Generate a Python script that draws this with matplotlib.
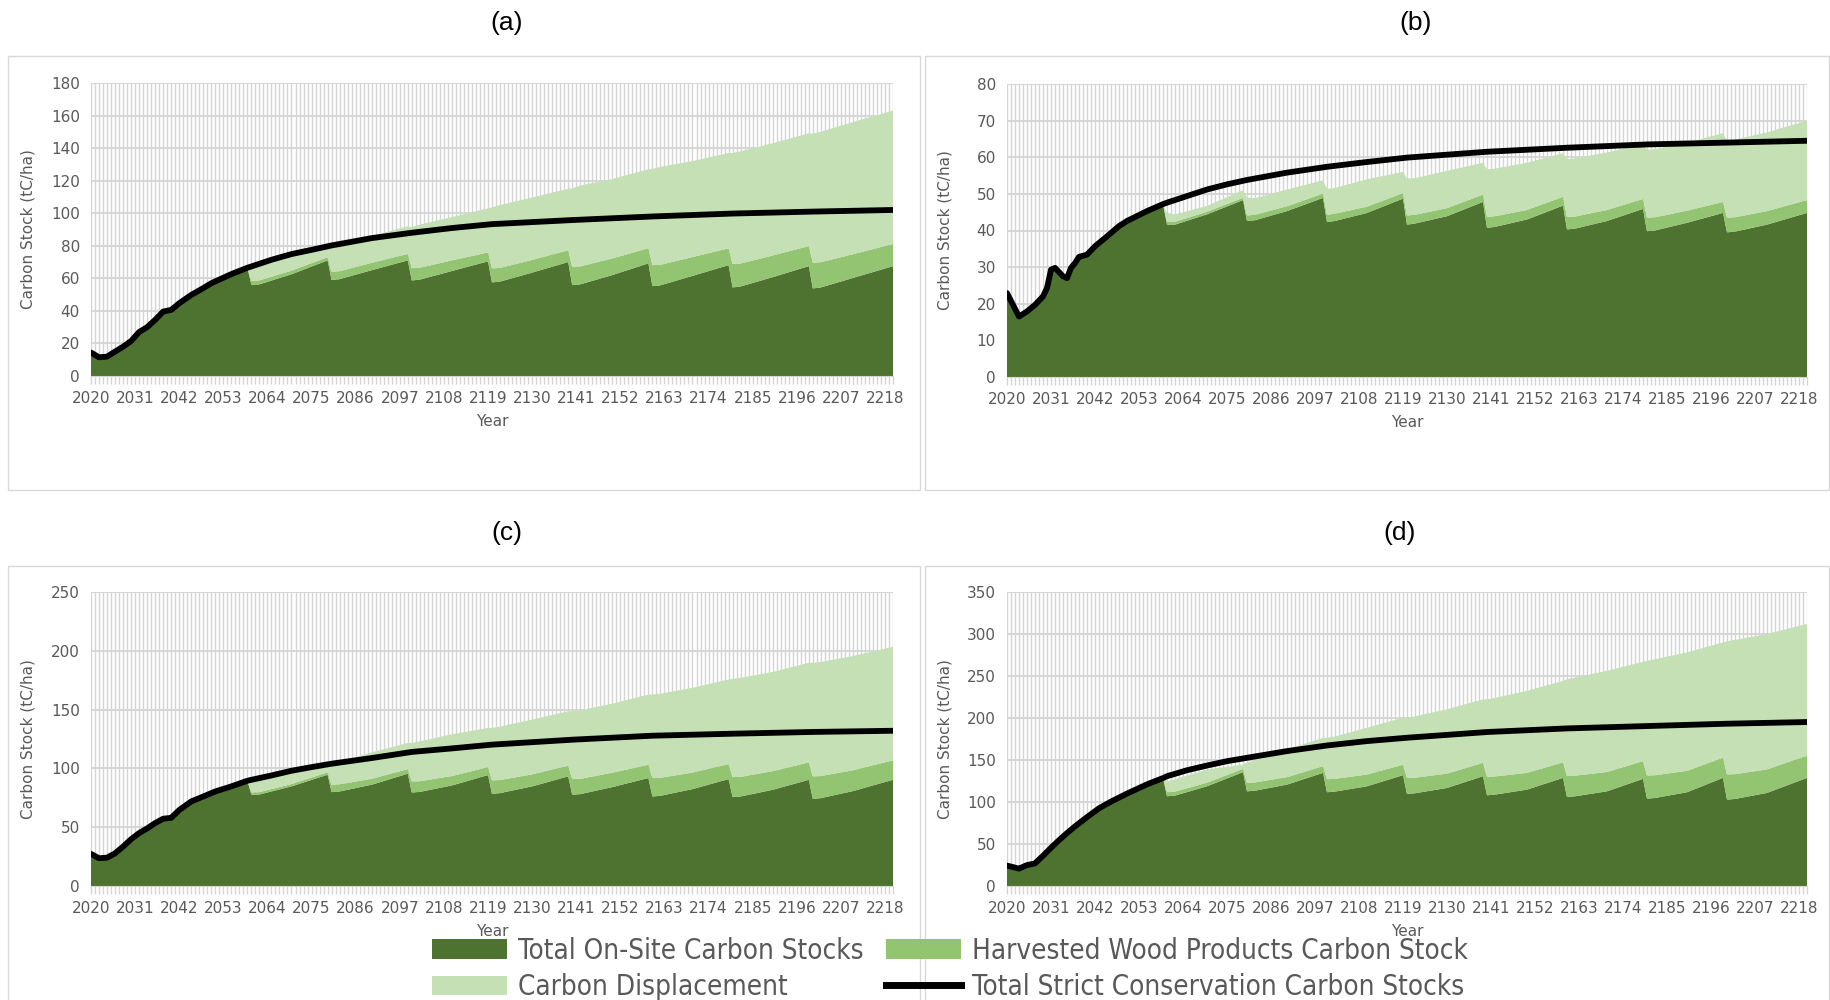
import matplotlib
matplotlib.use('Agg')
import matplotlib.pyplot as plt
from matplotlib import font_manager
from matplotlib.patches import Rectangle, Patch
from matplotlib.lines import Line2D
from matplotlib.ticker import FixedLocator, MultipleLocator

DARK = '#4E7230'
MID = '#92C472'
LIGHT = '#C5E0B4'
GRID = '#D4D4D4'
TEXT = '#595959'

XTICKS = [2020, 2031, 2042, 2053, 2064, 2075, 2086, 2097, 2108, 2119,
          2130, 2141, 2152, 2163, 2174, 2185, 2196, 2207, 2218]

# harvest rotations: post-harvest low, +2 yrs, mid rotation, pre-harvest high
ROT_YEARS = [2060, 2062, 2070, 2079,
             2080, 2082, 2090, 2099,
             2100, 2102, 2110, 2119,
             2120, 2122, 2130, 2139,
             2140, 2142, 2150, 2159,
             2160, 2162, 2170, 2179,
             2180, 2182, 2190, 2199,
             2200, 2202, 2210, 2220]
STRICT_LATE_YEARS = [2060, 2065, 2070, 2075, 2080, 2090, 2100, 2110, 2120,
                     2140, 2160, 2180, 2200, 2220]

# ---- (a)
A_PRE_YEARS = [2020, 2022, 2024, 2026, 2028, 2030, 2032, 2034, 2036, 2038,
               2040, 2042, 2045, 2048, 2050, 2055, 2059]
A_PRE_STOCK = [14.4, 11.5, 11.9, 15, 18, 21.5, 27, 30, 34.5, 39.6,
               40.6, 44.7, 49.8, 54, 57, 62.6, 66.5]
A_ONSITE = [56, 56.3, 62.5, 71, 59, 59.5, 65, 71, 58.7, 59.2, 64.5, 70.4,
            57.5, 58, 63.5, 70, 55.8, 56.3, 62, 69.2, 55.2, 55.7, 61.5, 68.1,
            54.4, 55, 60.7, 67.5, 53.8, 54.4, 60.2, 67.5]
A_HWP = [2.5, 2.4, 2.2, 2, 5, 4.9, 4.5, 4, 7.5, 7.3, 6.5, 5.5,
         8.6, 8.4, 7.8, 7.2, 11.3, 11, 10.2, 9.3, 12.9, 12.6, 11.6, 10.3,
         14.4, 14.1, 13.3, 12.3, 15.8, 15.5, 14.6, 13.6]
A_DISP = [7.8, 9.8, 9.3, 6.0, 15.5, 16.6, 16.5, 17, 25.3, 26.5, 26.6, 27.1,
          37.5, 38.6, 38.4, 37.8, 48.2, 49.7, 48.8, 48.5, 59.1, 60.2, 58.9, 58.6,
          68.2, 68.9, 69, 69.2, 79.4, 80.1, 81.2, 81.9]
A_STRICT_LATE = [67.3, 71.4, 74.9, 77.5, 80.2, 84.7, 88, 90.9, 93.3,
                 95.8, 98, 99.8, 101, 102]

# ---- (b)
B_PRE_YEARS = [2020, 2023, 2025, 2027, 2029, 2030, 2031, 2032, 2034, 2035,
               2036, 2037, 2038, 2040, 2042, 2045, 2048, 2050, 2055, 2059]
B_PRE_STOCK = [22.9, 16.5, 17.9, 19.7, 22, 24.3, 29.3, 29.8, 27.5, 27,
               29.8, 31.1, 32.8, 33.4, 35.7, 38.4, 41.2, 42.6, 45.3, 47.2]
B_ONSITE = [41.6, 41.6, 44.4, 48.3, 42.6, 42.8, 45.3, 48.9, 42.3, 42.6, 44.8, 48.7,
            41.6, 41.9, 43.9, 47.8, 40.7, 41, 43, 46.8, 40.3, 40.5, 42.6, 45.9,
            39.8, 40, 42.1, 44.8, 39.5, 39.7, 41.6, 44.8]
B_HWP = [0.8, 0.8, 0.7, 0.6, 1.5, 1.5, 1.3, 1.2, 2.0, 2.0, 1.7, 1.5,
         2.5, 2.4, 2.2, 2.0, 3.0, 2.9, 2.6, 2.4, 3.4, 3.3, 3.0, 2.7,
         3.7, 3.6, 3.3, 3.0, 4.0, 3.9, 3.7, 3.5]
B_DISP = [2.4, 2.0, 1.6, 2.1, 4.9, 4.5, 4.6, 3.6, 7.1, 7.0, 7.5, 5.8,
          10.1, 10.0, 10.2, 8.7, 13, 13, 12.9, 11.9, 15.8, 15.9, 15.7, 15,
          18.5, 18.6, 18.6, 18.8, 21, 21.2, 21.5, 21.7]
B_STRICT_LATE = [47.6, 49.4, 51.2, 52.6, 53.8, 55.8, 57.4, 58.7, 59.9,
                 61.5, 62.6, 63.5, 64, 64.5]

# ---- (c)
C_PRE_YEARS = [2020, 2022, 2024, 2026, 2028, 2030, 2032, 2034, 2036, 2038,
               2040, 2042, 2045, 2048, 2051, 2055, 2059]
C_PRE_STOCK = [27.3, 23.6, 24.1, 27.8, 33.5, 39.8, 45, 49, 53.5, 57.2,
               58, 64.6, 71.9, 76.1, 80.4, 84.7, 89.5]
C_ONSITE = [77.6, 77.8, 84.7, 94.6, 79.8, 80.4, 86.1, 95.5, 79.5, 80, 85.5, 94.3,
            78.4, 79, 84.7, 93.2, 77.6, 78.1, 84.1, 91.8, 76.1, 76.7, 82.4, 90.9,
            75.6, 76.1, 81.8, 90.3, 74.1, 74.7, 80.7, 90.3]
C_HWP = [2, 2, 2, 2, 6.3, 6.1, 5, 3.9, 9.4, 9.1, 8, 6.8,
         11.4, 11.1, 10.2, 9.1, 13.3, 13, 12.2, 11.3, 15.7, 15.3, 14, 12.8,
         17, 16.7, 15.8, 14.8, 19.1, 18.8, 17.7, 16.5]
C_DISP = [8.9, 10.7, 9.8, 5.4, 18.4, 19, 22.5, 22.2, 32.7, 33.9, 35.5, 33.3,
          44.6, 45.4, 46.6, 46.3, 57.7, 58.4, 58.7, 59.7, 71, 71.5, 72.1, 71.9,
          83.4, 84.2, 84.4, 84.7, 96.6, 97, 97.1, 96.6]
C_STRICT_LATE = [90.3, 94, 98, 101.1, 104, 108.8, 114, 117, 120.2,
                 124.4, 127.8, 129.5, 131, 132]

# ---- (d)
D_PRE_YEARS = [2020, 2022, 2023, 2025, 2027, 2029, 2031, 2033, 2035, 2037,
               2040, 2043, 2046, 2050, 2055, 2059]
D_PRE_STOCK = [24.3, 21.9, 20.7, 24.9, 26.9, 36, 45.5, 54.5, 63, 71,
               82, 92.5, 100.5, 110, 121, 128.5]
D_ONSITE = [106.8, 107.6, 118.7, 135.5, 112.7, 113.5, 120.7, 134.7,
            111.6, 112.4, 118.7, 131.9, 109.6, 110.4, 116.7, 130.7,
            108, 108.8, 114.7, 128.7, 106, 106.8, 112.7, 127.5,
            104, 104.8, 111.6, 128.7, 102.8, 103.6, 110.8, 128.7]
D_HWP = [4.8, 4.7, 4.3, 3.9, 10, 9.8, 8.9, 7.9, 15.5, 15.2, 14, 12.5,
         19, 18.6, 17, 16, 22, 21.6, 20, 18.5, 25, 24.5, 23, 21,
         27.5, 27, 25.5, 24, 30, 29.5, 28, 26.5]
D_DISP = [13.1, 14.7, 15.6, 5.2, 24.7, 25.7, 32.9, 33.9, 49.4, 50.4, 55.7, 56,
          71.8, 73, 76.7, 75.6, 92.3, 93.6, 97.6, 97, 115.2, 116.7, 120.5, 118.4,
          136.6, 138.2, 141, 137.3, 158.4, 159.9, 161.2, 156.8]
D_STRICT_LATE = [130.7, 137.8, 143.4, 148.6, 152.6, 160.6, 167.3, 172.5, 176.5,
                 183.3, 187.6, 190.4, 193.2, 195.2]


def legend_prop():
    # narrow face for the legend if one is installed
    try:
        path = font_manager.findfont(
            font_manager.FontProperties(family='Liberation Sans Narrow'),
            fallback_to_default=False)
        if 'Narrow' in path:
            return {'family': 'Liberation Sans Narrow', 'size': 21}
    except Exception:
        pass
    path = font_manager.findfont(
        font_manager.FontProperties(family='DejaVu Sans', stretch='condensed'))
    if 'Condensed' in path:
        return {'family': 'DejaVu Sans', 'stretch': 'condensed', 'size': 20}
    return {'family': 'DejaVu Sans', 'size': 18}


def draw_panel(fig, rect, pre_years, pre_stock, onsite, hwp, disp, strict_late,
               ymax, ystep, ylabel_x):
    years = pre_years + ROT_YEARS
    zeros = [0] * len(pre_years)
    ax = fig.add_axes(rect)
    ax.set_axisbelow(True)
    ax.stackplot(years, pre_stock + onsite, zeros + hwp, zeros + disp,
                 colors=[DARK, MID, LIGHT], linewidth=0)
    ax.plot(pre_years + STRICT_LATE_YEARS, pre_stock + strict_late,
            color='black', lw=4.2, solid_joinstyle='round',
            solid_capstyle='round', zorder=5)
    ax.set_xlim(2020, 2220)
    ax.set_ylim(0, ymax)
    ax.set_yticks(range(0, ymax + 1, ystep))
    ax.xaxis.set_major_locator(FixedLocator(XTICKS))
    ax.xaxis.set_minor_locator(MultipleLocator(1))
    ax.grid(axis='x', which='both', color=GRID, lw=1.0)
    ax.grid(axis='y', which='major', color=GRID, lw=1.3)
    for side in ['top', 'right', 'left']:
        ax.spines[side].set_visible(False)
    ax.spines['bottom'].set_color(GRID)
    ax.tick_params(axis='x', which='both', length=6, color=GRID, width=1.0,
                   labelsize=11, labelcolor=TEXT, pad=5)
    ax.tick_params(axis='y', length=0, labelsize=11, labelcolor=TEXT, pad=8)
    ax.set_ylabel('Carbon Stock (tC/ha)', color=TEXT, fontsize=11)
    ax.set_xlabel('Year', color=TEXT, fontsize=11)
    ax.yaxis.set_label_coords(ylabel_x, 0.5)
    ax.xaxis.set_label_coords(0.5, -0.13)
    return ax


fig = plt.figure(figsize=(18.3, 10), dpi=100)

W, H = 1830.0, 1000.0


def frac_rect(x0, y0, x1, y1):
    return [x0 / W, 1 - y1 / H, (x1 - x0) / W, (y1 - y0) / H]


# panel frames
for x0, y0, x1, y1 in [(8, 56, 920, 490), (925, 56, 1829, 490),
                       (8, 566, 920, 1005), (925, 566, 1829, 1005)]:
    fig.patches.append(Rectangle((x0 / W, 1 - y1 / H), (x1 - x0) / W, (y1 - y0) / H,
                                 transform=fig.transFigure, fill=False,
                                 edgecolor='#D9D9D9', lw=1))

draw_panel(fig, frac_rect(91, 83, 893, 376), A_PRE_YEARS, A_PRE_STOCK,
           A_ONSITE, A_HWP, A_DISP, A_STRICT_LATE, 180, 20, -0.069)
draw_panel(fig, frac_rect(1007, 84, 1807, 377), B_PRE_YEARS, B_PRE_STOCK,
           B_ONSITE, B_HWP, B_DISP, B_STRICT_LATE, 80, 10, -0.0675)
draw_panel(fig, frac_rect(91, 592, 893, 886), C_PRE_YEARS, C_PRE_STOCK,
           C_ONSITE, C_HWP, C_DISP, C_STRICT_LATE, 250, 50, -0.069)
draw_panel(fig, frac_rect(1007, 592, 1807, 886), D_PRE_YEARS, D_PRE_STOCK,
           D_ONSITE, D_HWP, D_DISP, D_STRICT_LATE, 350, 50, -0.0675)

title_font = ['Liberation Sans', 'DejaVu Sans']
for label, x, y in [('(a)', 507, 23), ('(b)', 1416, 23),
                    ('(c)', 507, 533), ('(d)', 1400, 533)]:
    fig.text(x / W, 1 - y / H, label, ha='center', va='center',
             fontsize=19, family=title_font, color='black')

handles = [Patch(facecolor=DARK), Patch(facecolor=LIGHT),
           Patch(facecolor=MID), Line2D([], [], color='black', lw=5)]
labels = ['Total On-Site Carbon Stocks', 'Carbon Displacement',
          'Harvested Wood Products Carbon Stock',
          'Total Strict Conservation Carbon Stocks']
fig.legend(handles, labels, ncol=2, loc='center', bbox_to_anchor=(0.519, 0.031),
           frameon=False, prop=legend_prop(),
           labelcolor=TEXT, handlelength=2.7, handleheight=0.7,
           handletextpad=0.4, columnspacing=0.8, labelspacing=0.3)

fig.savefig('out.png', dpi=100, facecolor='white')
